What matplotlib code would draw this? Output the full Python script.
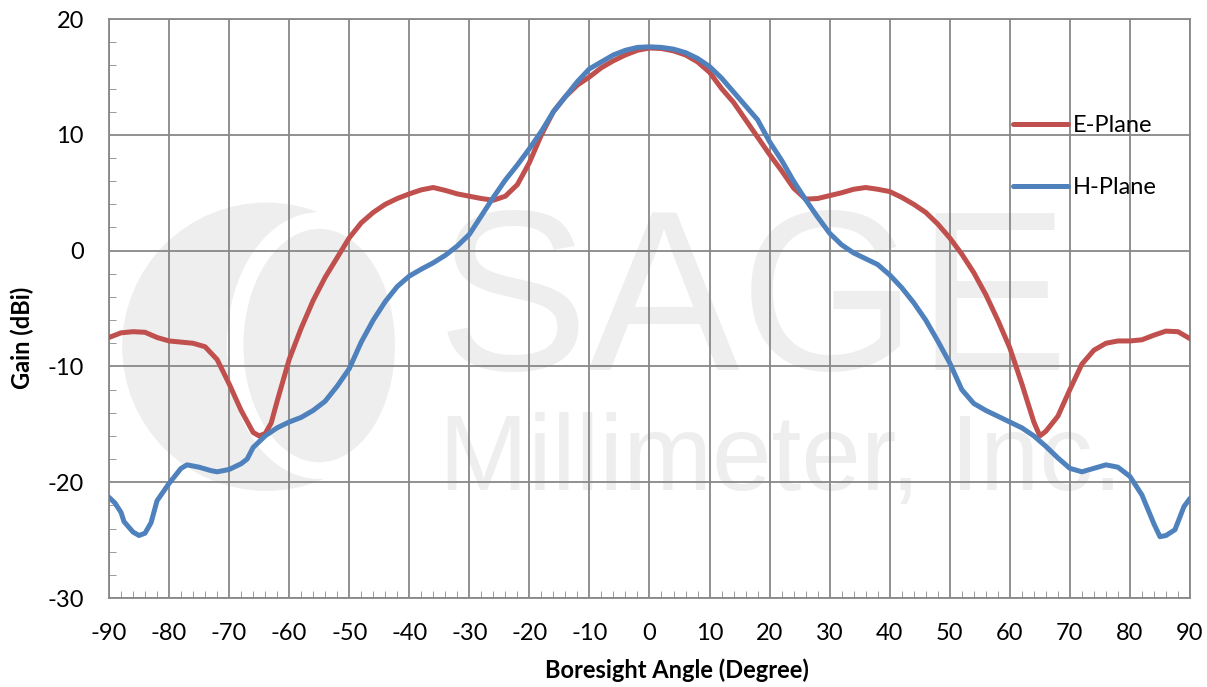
import matplotlib.pyplot as plt
from matplotlib.patches import Ellipse
from matplotlib.ticker import MultipleLocator

# E-plane pattern (degrees, dBi)
e_angle = [-90, -88, -86, -84, -82, -80, -78, -76, -74, -72, -70, -68, -66, -65,
           -64, -63, -62, -60, -58, -56, -54, -52, -50, -48, -46, -44, -42, -40,
           -38, -36, -34, -32, -30, -28, -26, -24, -22, -20, -18, -16, -14, -12,
           -10, -8, -6, -4, -2, 0, 2, 4, 6, 8, 10, 12, 14, 16, 18, 20, 22, 24, 26,
           28, 30, 32, 34, 36, 38, 40, 42, 44, 46, 48, 50, 52, 54, 56, 58, 60, 62,
           64, 65, 66, 68, 70, 72, 74, 76, 78, 80, 82, 84, 86, 88, 90]
e_gain = [-7.5, -7.1, -7.0, -7.05, -7.5, -7.8, -7.9, -8.0, -8.3, -9.4, -11.5, -13.8,
          -15.7, -16.0, -15.8, -14.9, -13.0, -9.4, -6.7, -4.3, -2.3, -0.6, 1.1, 2.4,
          3.3, 4.0, 4.5, 4.9, 5.25, 5.45, 5.2, 4.9, 4.7, 4.5, 4.35, 4.7, 5.7, 7.6,
          10.0, 12.0, 13.3, 14.3, 15.0, 15.8, 16.4, 16.9, 17.3, 17.5, 17.45, 17.25,
          16.9, 16.3, 15.4, 14.0, 12.8, 11.3, 9.8, 8.3, 6.9, 5.4, 4.45, 4.5, 4.75,
          5.0, 5.3, 5.45, 5.3, 5.1, 4.6, 4.0, 3.3, 2.3, 1.1, -0.3, -1.9, -3.8, -6.0,
          -8.4, -11.5, -14.8, -16.0, -15.6, -14.3, -12.0, -9.8, -8.6, -8.0, -7.8,
          -7.8, -7.7, -7.3, -6.95, -7.0, -7.6]

# H-plane pattern (degrees, dBi)
h_angle = [-90, -89, -88, -87.5, -86, -85, -84, -83, -82, -80, -78, -77, -75, -73,
           -72, -70, -68, -67, -66, -64, -62, -60, -58, -56, -54, -52, -50, -48,
           -46, -44, -42, -40, -38, -36, -34, -32, -30, -28, -26, -24, -22, -20,
           -18, -16, -14, -12, -10, -8, -6, -4, -2, 0, 2, 4, 6, 8, 10, 12, 14, 16,
           18, 20, 22, 24, 26, 28, 30, 32, 34, 36, 38, 40, 42, 44, 46, 48, 50, 52,
           54, 56, 58, 60, 62, 64, 66, 68, 70, 72, 74, 76, 78, 80, 82, 84, 85, 86,
           87.5, 89, 90]
h_gain = [-21.3, -21.8, -22.6, -23.4, -24.3, -24.6, -24.4, -23.5, -21.6, -20.1,
          -18.8, -18.5, -18.7, -19.0, -19.1, -18.9, -18.4, -18.0, -17.0, -16.0,
          -15.3, -14.8, -14.4, -13.8, -13.0, -11.7, -10.2, -7.9, -6.0, -4.4, -3.1,
          -2.2, -1.6, -1.05, -0.4, 0.4, 1.4, 3.0, 4.6, 6.1, 7.4, 8.8, 10.3, 12.0,
          13.3, 14.6, 15.7, 16.3, 16.9, 17.3, 17.55, 17.6, 17.55, 17.4, 17.1, 16.6,
          15.9, 14.9, 13.7, 12.5, 11.3, 9.4, 7.8, 6.0, 4.4, 2.9, 1.5, 0.5, -0.2,
          -0.7, -1.2, -2.1, -3.2, -4.5, -6.0, -7.8, -9.7, -12.0, -13.2, -13.8,
          -14.3, -14.8, -15.3, -16.0, -16.9, -17.9, -18.8, -19.1, -18.8, -18.5,
          -18.7, -19.5, -21.1, -23.6, -24.7, -24.6, -24.1, -22.1, -21.4]

x_ticks = list(range(-90, 91, 10))
y_ticks = list(range(-30, 21, 10))


def main():
    plt.rcParams["font.family"] = ["Lato", "DejaVu Sans"]
    plt.rcParams["axes.unicode_minus"] = False

    fig = plt.figure(figsize=(12.07, 6.87), dpi=100)
    ax = fig.add_axes([0.0903, 0.1295, 0.8956, 0.8428])

    # light watermark behind the grid
    wm = "#eeeeee"
    ax.add_patch(Ellipse((-63.8, -8.3), 48, 24.9, color=wm, zorder=0.1, lw=0))
    ax.add_patch(Ellipse((-55, -8.2), 28, 21.6, fill=False, ec="white",
                         lw=12, zorder=0.2))
    ax.text(-35.5, -10.3, "SAGE", fontsize=164, color=wm, zorder=0.2,
            family=["Liberation Sans", "DejaVu Sans"], va="baseline")
    ax.text(-35, -20.7, "Millimeter, Inc.", fontsize=77, color=wm, zorder=0.2,
            family=["Liberation Sans", "DejaVu Sans"], va="baseline")

    ax.plot(e_angle, e_gain, color="#C0504D", lw=3.6, label="E-Plane",
            solid_capstyle="round", zorder=3)
    ax.plot(h_angle, h_gain, color="#4F81BD", lw=3.6, label="H-Plane",
            solid_capstyle="round", zorder=3)

    ax.set_xlim(-90, 90)
    ax.set_ylim(-30, 20)
    ax.set_xticks(x_ticks)
    ax.set_yticks(y_ticks)
    ax.xaxis.set_minor_locator(MultipleLocator(2))
    ax.yaxis.set_minor_locator(MultipleLocator(2))
    ax.tick_params(which="major", length=0, labelsize=17)
    ax.tick_params(axis="x", which="major", pad=18)
    ax.tick_params(axis="y", which="major", pad=18)
    ax.tick_params(which="minor", direction="in", length=5, color="#888888")
    ax.set_axisbelow(True)
    ax.grid(which="major", color="#888888", lw=1.3)
    for s in ax.spines.values():
        s.set_color("#888888")
        s.set_linewidth(1.3)

    ax.set_xlabel("Boresight Angle (Degree)", fontsize=17, fontweight="bold",
                  labelpad=10, x=0.525)
    ax.set_ylabel("Gain (dBi)", fontsize=17, fontweight="bold", labelpad=10,
                  y=0.45)

    ax.legend(loc="upper left", bbox_to_anchor=(0.836, 0.834), frameon=False,
              fontsize=17, handlelength=2.33, handletextpad=0.2,
              labelspacing=1.73, borderpad=0, borderaxespad=0)

    fig.savefig("out.png", dpi=100)


if __name__ == "__main__":
    main()
